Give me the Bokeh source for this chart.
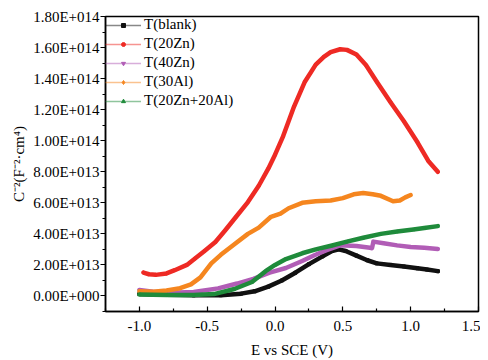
from bokeh.plotting import figure
from bokeh.models import FixedTicker, Legend, LegendItem, Range1d
from bokeh.embed import file_html
from bokeh.resources import INLINE
import math

# ---- data ----
blank_x = [-1.0, -0.8, -0.6, -0.4, -0.25, -0.15, -0.05, 0.05, 0.15, 0.25, 0.35, 0.42, 0.47,
           0.52, 0.6, 0.68, 0.75, 0.85, 0.95, 1.05, 1.12, 1.2]
blank_y = [1.3e12, 0.8e12, 0.4e12, 0.5e12, 1.5e12, 3.0e12, 6.0e12, 1.0e13, 1.5e13, 2.05e13,
           2.55e13, 2.9e13, 3.0e13, 2.9e13, 2.6e13, 2.3e13, 2.1e13, 2.0e13, 1.9e13, 1.78e13,
           1.7e13, 1.6e13]

zn20_x = [-0.97, -0.93, -0.88, -0.8, -0.74, -0.65, -0.59, -0.52, -0.44, -0.37, -0.29, -0.2,
          -0.12, -0.05, 0.0, 0.06, 0.14, 0.22, 0.3, 0.36, 0.41, 0.48, 0.53, 0.6, 0.67, 0.75,
          0.85, 0.95, 1.05, 1.13, 1.2]
zn20_y = [1.51e13, 1.4e13, 1.36e13, 1.45e13, 1.66e13, 2.0e13, 2.41e13, 2.9e13, 3.48e13,
          4.2e13, 5.07e13, 6.05e13, 7.1e13, 8.2e13, 9.1e13, 1.03e14, 1.22e14, 1.38e14,
          1.49e14, 1.54e14, 1.57e14, 1.589e14, 1.585e14, 1.555e14, 1.487e14, 1.38e14,
          1.25e14, 1.125e14, 9.9e13, 8.7e13, 8.0e13]

zn40_x = [-1.0, -0.9, -0.77, -0.6, -0.42, -0.28, -0.16, -0.04, 0.08, 0.2, 0.29, 0.38, 0.48,
          0.6, 0.7, 0.715, 0.725, 0.8, 0.9, 1.0, 1.1, 1.2]
zn40_y = [3.8e12, 2.8e12, 2.0e12, 2.6e12, 4.9e12, 8.0e12, 1.1e13, 1.5e13, 1.8e13, 2.25e13,
          2.62e13, 2.95e13, 3.26e13, 3.22e13, 3.1e13, 3.08e13, 3.5e13, 3.4e13, 3.26e13,
          3.15e13, 3.1e13, 3.02e13]

al30_x = [-1.0, -0.9, -0.8, -0.7, -0.62, -0.55, -0.47, -0.4, -0.29, -0.2, -0.12, -0.03, 0.04,
          0.1, 0.2, 0.3, 0.41, 0.5, 0.58, 0.65, 0.72, 0.78, 0.87, 0.92, 0.96, 1.0]
al30_y = [3.0e12, 2.8e12, 3.5e12, 5.0e12, 7.5e12, 1.2e13, 2.1e13, 2.65e13, 3.4e13, 4.0e13,
          4.4e13, 5.1e13, 5.3e13, 5.65e13, 6.0e13, 6.1e13, 6.15e13, 6.3e13, 6.55e13, 6.63e13,
          6.55e13, 6.45e13, 6.1e13, 6.15e13, 6.35e13, 6.5e13]

znal_x = [-1.0, -0.8, -0.6, -0.45, -0.3, -0.17, -0.07, 0.0, 0.08, 0.2, 0.3, 0.42, 0.53, 0.65,
          0.78, 0.9, 1.02, 1.1, 1.2]
znal_y = [1.0e12, 0.7e12, 0.6e12, 1.2e12, 4.5e12, 9.0e12, 1.6e13, 2.0e13, 2.38e13, 2.75e13,
          3.0e13, 3.25e13, 3.5e13, 3.75e13, 4.0e13, 4.15e13, 4.28e13, 4.38e13, 4.5e13]

series_labels = ["T(blank)", "T(20Zn)", "T(40Zn)", "T(30Al)", "T(20Zn+20Al)"]

x_ticks = [-1.0, -0.5, 0.0, 0.5, 1.0, 1.5]
x_tick_labels = ["-1.0", "-0.5", "0.0", "0.5", "1.0", "1.5"]
x_minor = [-1.25, -0.75, -0.25, 0.25, 0.75, 1.25]
y_ticks = [0, 2e13, 4e13, 6e13, 8e13, 1e14, 1.2e14, 1.4e14, 1.6e14, 1.8e14]
y_tick_labels = ["0.00E+000", "2.00E+013", "4.00E+013", "6.00E+013", "8.00E+013",
                 "1.00E+014", "1.20E+014", "1.40E+014", "1.60E+014", "1.80E+014"]
y_minor = [-1e13, 1e13, 3e13, 5e13, 7e13, 9e13, 1.1e14, 1.3e14, 1.5e14, 1.7e14]

FONT = "'Liberation Serif', 'Times New Roman', serif"

p = figure(width=480, height=360, output_backend="svg", toolbar_location=None,
           x_range=Range1d(-1.25, 1.5), y_range=Range1d(-1e13, 1.8e14),
           min_border_left=105, min_border_right=2, min_border_top=16, min_border_bottom=20)
p.background_fill_color = "white"
p.border_fill_color = "white"
p.grid.visible = False
p.outline_line_color = "black"
p.outline_line_width = 1.5

p.xaxis.ticker = FixedTicker(ticks=x_ticks, minor_ticks=x_minor)
p.xaxis.major_label_overrides = {t: l for t, l in zip(x_ticks, x_tick_labels)}
p.yaxis.ticker = FixedTicker(ticks=y_ticks, minor_ticks=y_minor)
p.yaxis.major_label_overrides = {t: l for t, l in zip(y_ticks, y_tick_labels)}

p.xaxis.axis_label = "E vs SCE (V)"
p.yaxis.axis_label = "C\u207b\u00b2(F\u207b\u00b2\u00b7cm\u2074)"

for ax in (p.xaxis, p.yaxis):
    ax.axis_line_color = "black"
    ax.axis_line_width = 1.5
    ax.major_tick_line_color = "black"
    ax.minor_tick_line_color = "black"
    ax.major_tick_line_width = 1.2
    ax.minor_tick_line_width = 1.2
    ax.major_label_text_font = FONT
    ax.major_label_text_font_size = "15px"
    ax.major_label_text_color = "black"
    ax.axis_label_text_font = FONT
    ax.axis_label_text_font_size = "15px"
    ax.axis_label_text_font_style = "normal"
    ax.axis_label_text_color = "black"

p.xaxis.major_tick_in = 5
p.xaxis.major_tick_out = 0
p.xaxis.minor_tick_in = 3
p.xaxis.minor_tick_out = 0
p.xaxis.major_label_standoff = 9
p.xaxis.axis_label_standoff = 8

p.yaxis.major_tick_in = 0
p.yaxis.major_tick_out = 5
p.yaxis.minor_tick_in = 0
p.yaxis.minor_tick_out = 3
p.yaxis.major_label_standoff = 1
p.yaxis.axis_label_standoff = 3

colors = ["#111111", "#ee2a24", "#b15db6", "#f5861f", "#1f8b3b"]
markers = ["square", "circle", "inverted_triangle", "diamond", "triangle"]
angles = [0, 0, 0, 0, math.pi / 2]
xs = [blank_x, zn20_x, zn40_x, al30_x, znal_x]
ys = [blank_y, zn20_y, zn40_y, al30_y, znal_y]

items = []
for lab, c, m, a, x, y in zip(series_labels, colors, markers, angles, xs, ys):
    thin = p.line(x, y, line_color=c, line_alpha=0.5, line_width=1.5)
    p.line(x, y, line_color=c, line_width=4.5, line_join="round", line_cap="round")
    mk = p.scatter(x, y, marker=m, angle=a, size=3, fill_color=c, line_color=c)
    items.append(LegendItem(label=lab, renderers=[thin, mk]))

legend = Legend(items=items, location="top_left", margin=0, padding=7,
                spacing=2, glyph_width=36, glyph_height=10, label_height=17,
                label_standoff=3, label_text_font=FONT, label_text_font_size="15px",
                label_text_color="black", border_line_color=None,
                background_fill_alpha=0)
p.add_layout(legend)

open("out.html", "w").write(file_html(p, INLINE))
